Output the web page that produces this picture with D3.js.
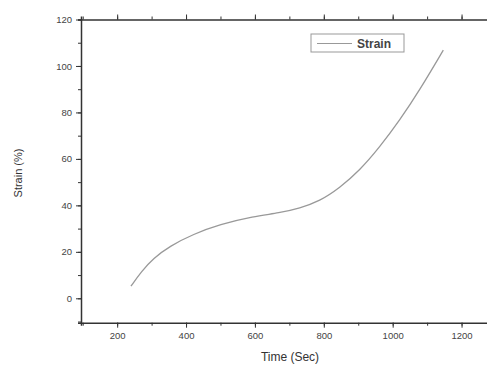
<!DOCTYPE html>
<html>
<head>
<meta charset="utf-8">
<script src="https://cdn.jsdelivr.net/npm/d3@7"></script>
<style>
  body { margin: 0; background: #fff; }
  svg { display: block; font-family: "Liberation Sans", Arial, sans-serif; }
  .axis path, .axis line { stroke: #333; }
  .axis text { fill: #444; font-size: 9.5px; }
</style>
</head>
<body>
<svg width="487" height="365"></svg>
<script>
// strain curve
var times  = [240, 270, 305, 353, 421, 498, 595, 672, 730, 788, 846, 904, 962, 1020, 1078, 1147];
var strain = [5.2, 11.5, 17.2, 22.5, 27.6, 31.8, 35.2, 36.8, 38.8, 41.8, 47.5, 55.0, 65.0, 76.5, 89.5, 106.8];
var xTicks = [200, 400, 600, 800, 1000, 1200];
var yTicks = [0, 20, 40, 60, 80, 100, 120];
var seriesName = "Strain";

var svg = d3.select("svg");

var x = d3.scaleLinear().domain([95, 1300]).range([81, 496]),
    y = d3.scaleLinear().domain([-10.5, 120]).range([322.7, 19.5]);

var data = times.map(function(t, i) { return {t: t, s: strain[i]}; });

var xMinor = d3.range(100, 1301, 100),
    yMinor = d3.range(-10, 121, 10);

// bottom axis
svg.append("g")
    .attr("class", "axis")
    .attr("transform", "translate(0," + y.range()[0] + ")")
    .call(d3.axisBottom(x).tickValues(xMinor).tickSize(3).tickFormat(""))
    .call(function(g) { g.select(".domain").attr("stroke-width", 1.5); });

svg.append("g")
    .attr("class", "axis")
    .attr("transform", "translate(0," + y.range()[0] + ")")
    .call(d3.axisBottom(x).tickValues(xTicks).tickSize(5).tickPadding(5).tickFormat(d3.format("d")))
    .call(function(g) { g.select(".domain").remove(); });

// top axis
svg.append("g")
    .attr("class", "axis")
    .attr("transform", "translate(0," + y.range()[1] + ")")
    .call(d3.axisTop(x).tickValues(xMinor).tickSize(3).tickFormat(""))
    .call(function(g) { g.select(".domain").attr("stroke-width", 1.5); });

svg.append("g")
    .attr("class", "axis")
    .attr("transform", "translate(0," + y.range()[1] + ")")
    .call(d3.axisTop(x).tickValues(xTicks).tickSize(5).tickFormat(""))
    .call(function(g) { g.select(".domain").remove(); });

// left axis
svg.append("g")
    .attr("class", "axis")
    .attr("transform", "translate(" + x.range()[0] + ",0)")
    .call(d3.axisLeft(y).tickValues(yMinor).tickSize(3).tickFormat(""))
    .call(function(g) { g.select(".domain").attr("stroke-width", 1.5); });

svg.append("g")
    .attr("class", "axis")
    .attr("transform", "translate(" + x.range()[0] + ",0)")
    .call(d3.axisLeft(y).tickValues(yTicks).tickSize(5).tickPadding(4))
    .call(function(g) { g.select(".domain").remove(); });

// axis titles
svg.append("text")
    .attr("x", 290)
    .attr("y", 361)
    .attr("text-anchor", "middle")
    .attr("fill", "#333")
    .style("font-size", "12px")
    .text("Time (Sec)");

svg.append("text")
    .attr("transform", "translate(22,173) rotate(-90)")
    .attr("text-anchor", "middle")
    .attr("fill", "#333")
    .style("font-size", "11px")
    .text("Strain (%)");

// curve
var line = d3.line()
    .curve(d3.curveBasis)
    .x(function(d) { return x(d.t); })
    .y(function(d) { return y(d.s); });

svg.append("path")
    .datum(data)
    .attr("fill", "none")
    .attr("stroke", "#999")
    .attr("stroke-width", 1.3)
    .attr("d", line);

// legend
var lg = svg.append("g").attr("transform", "translate(311,34)");
lg.append("rect")
    .attr("width", 93).attr("height", 18)
    .attr("fill", "#fff").attr("stroke", "#999").attr("stroke-width", 1);
lg.append("line")
    .attr("x1", 6).attr("x2", 41).attr("y1", 9.5).attr("y2", 9.5)
    .attr("stroke", "#999").attr("stroke-width", 1.2);
lg.append("text")
    .attr("x", 46).attr("y", 13.5)
    .attr("fill", "#444")
    .style("font-size", "12px")
    .style("font-weight", "bold")
    .text(seriesName);
</script>
</body>
</html>
